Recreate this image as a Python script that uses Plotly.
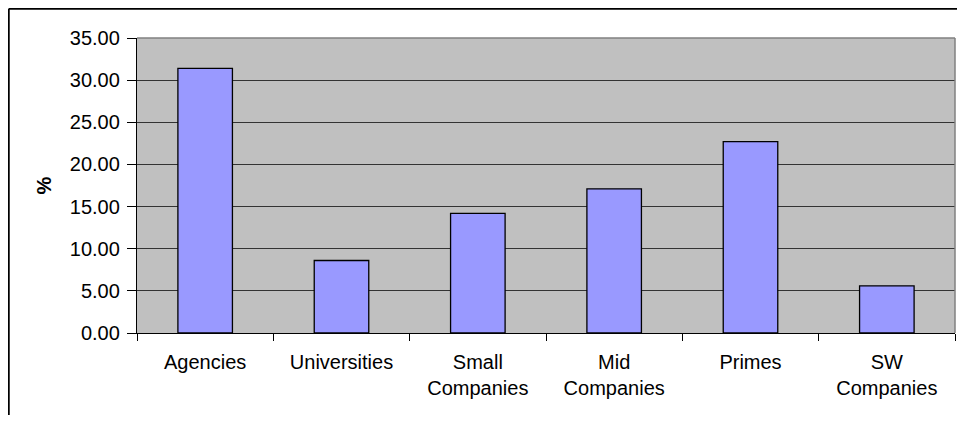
import plotly.graph_objects as go

categories = ["Agencies", "Universities", "Small<br>Companies", "Mid<br>Companies", "Primes", "SW<br>Companies"]
values = [31.4, 8.6, 14.2, 17.1, 22.7, 5.6]
y_ticks = [0, 5, 10, 15, 20, 25, 30, 35]
y_tick_labels = ["0.00", "5.00", "10.00", "15.00", "20.00", "25.00", "30.00", "35.00"]

# page body has an 8px margin, so the figure is sized to fit the visible window
W, H = 949, 407
L, R, T, B = 129.3, 1.5, 30.3, 81.7
pw, ph = W - L - R, H - T - B

def px_x(px):
    return (px - L) / pw

def px_y(py):
    return (H - B - py) / ph

font = dict(family="Liberation Sans, Arial, sans-serif", size=20, color="#000000")

fig = go.Figure(go.Bar(
    x=categories,
    y=values,
    marker=dict(color="#9999FF", line=dict(color="#000000", width=1.3)),
    width=0.4,
))

fig.update_layout(
    width=W, height=H,
    margin=dict(l=L, r=R, t=T, b=B, pad=0),
    paper_bgcolor="#FFFFFF",
    plot_bgcolor="#C0C0C0",
    font=font,
    showlegend=False,
    xaxis=dict(
        type="category",
        showline=True, linecolor="#000000", linewidth=1.3,
        ticks="outside", tickson="boundaries", ticklen=7, tickcolor="#000000", tickwidth=1,
        showgrid=False,
        tickfont=font,
        ticklabelstandoff=11,
    ),
    yaxis=dict(
        range=[0, 35],
        tickvals=y_ticks, ticktext=y_tick_labels,
        showline=True, linecolor="#000000", linewidth=1.3,
        ticks="outside", ticklen=9, tickcolor="#000000", tickwidth=1,
        showgrid=True, gridcolor="#333333", gridwidth=1,
        zeroline=False,
        tickfont=font,
        ticklabelstandoff=3,
        title=dict(text="<b>%</b>", font=dict(family="Liberation Sans, Arial, sans-serif", size=20), standoff=12),
    ),
    shapes=[
        # plot area top and right border (gray)
        dict(type="line", xref="paper", yref="paper", x0=0, x1=1, y0=1, y1=1,
             line=dict(color="#808080", width=1.5)),
        dict(type="line", xref="paper", yref="paper", x0=1, x1=1, y0=0, y1=1,
             line=dict(color="#808080", width=1.5)),
        # outer chart border (left and top visible)
        dict(type="line", xref="paper", yref="paper", x0=px_x(1), x1=px_x(1), y0=px_y(1), y1=px_y(440),
             line=dict(color="#000000", width=2)),
        dict(type="line", xref="paper", yref="paper", x0=px_x(1), x1=px_x(980), y0=px_y(1), y1=px_y(1),
             line=dict(color="#000000", width=2)),
    ],
)

fig.write_html("out.html")
